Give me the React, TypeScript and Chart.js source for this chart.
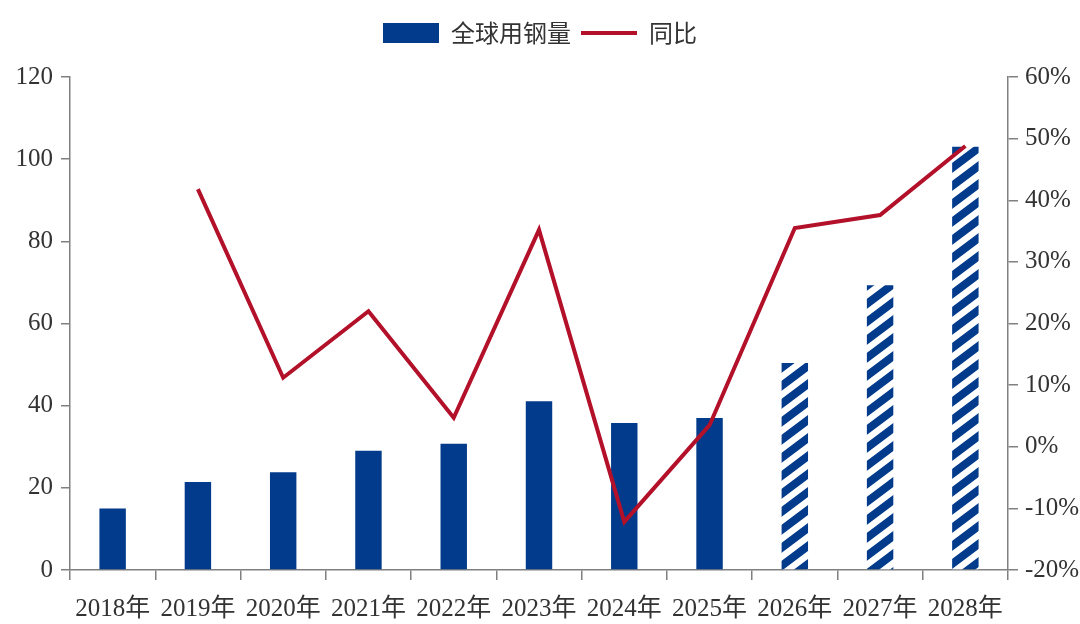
import React, { useEffect, useRef } from 'react';
import { Chart, registerables } from 'chart.js';

Chart.register(...registerables);

const years = ['2018年', '2019年', '2020年', '2021年', '2022年', '2023年', '2024年', '2025年', '2026年', '2027年', '2028年'];
// 全球用钢量 (left axis)
const steelUse = [15, 21.4, 23.8, 29, 30.7, 41.1, 35.8, 37, 50.4, 69.3, 103];
// 同比 % (right axis)
const yoy = [null, 41.8, 11.2, 22, 4.7, 35.2, -12.2, 3.5, 35.5, 37.6, 48.8];
// forecast years get the hatched fill
const forecast = [false, false, false, false, false, false, false, false, true, true, true];

const BLUE = '#023b8c';
const RED = '#b3102a';
const AXIS = '#808080';
const TEXT = '#333333';
const FONT = '"Liberation Serif", "Noto Sans CJK SC", serif';

function makeHatch(): CanvasPattern | string {
    // "/" stripes, vertical period 18, slope 0.75
    const w = 24;
    const h = 18;
    const c = document.createElement('canvas');
    c.width = w;
    c.height = h;
    const ctx = c.getContext('2d');
    if (!ctx) return BLUE;
    ctx.fillStyle = '#ffffff';
    ctx.fillRect(0, 0, w, h);
    ctx.strokeStyle = BLUE;
    ctx.lineWidth = 8;
    ctx.beginPath();
    for (const dy of [-h, 0, h]) {
        ctx.moveTo(-w, 2 * h + dy);
        ctx.lineTo(2 * w, -h + dy);
    }
    ctx.stroke();
    return ctx.createPattern(c, 'repeat') || BLUE;
}

// leave a gap between the legend and the plot area
const legendGap = {
    id: 'legendGap',
    beforeInit(chart: any) {
        if (!chart.legend) return;
        const fit = chart.legend.fit;
        chart.legend.fit = function () {
            fit.bind(chart.legend)();
            this.height += 22;
        };
    },
};

const App: React.FC = () => {
    const chartRef = useRef<HTMLCanvasElement>(null);

    useEffect(() => {
        document.body.style.margin = '0';
        if (!chartRef.current) return;
        const hatch = makeHatch();

        const chartInstance = new Chart(chartRef.current, {
            type: 'bar',
            data: {
                labels: years,
                datasets: [
                    {
                        type: 'bar',
                        label: '全球用钢量',
                        data: steelUse,
                        backgroundColor: forecast.map((f) => (f ? hatch : BLUE)),
                        borderWidth: 0,
                        barPercentage: 0.31,
                        categoryPercentage: 1,
                        yAxisID: 'y',
                        order: 1,
                        pointStyle: 'rect',
                    },
                    {
                        type: 'line',
                        label: '同比',
                        data: yoy,
                        borderColor: RED,
                        backgroundColor: RED,
                        borderWidth: 4,
                        pointRadius: 0,
                        pointStyle: 'line',
                        tension: 0,
                        yAxisID: 'y1',
                        order: 0,
                    },
                ] as any,
            },
            plugins: [legendGap],
            options: {
                animation: false,
                responsive: true,
                maintainAspectRatio: false,
                layout: {
                    padding: { top: 11, left: 0, right: 0, bottom: 0 },
                },
                plugins: {
                    legend: {
                        position: 'top',
                        labels: {
                            usePointStyle: true,
                            pointStyleWidth: 56,
                            boxHeight: 20,
                            padding: 10,
                            color: TEXT,
                            font: { family: '"Noto Sans CJK SC", sans-serif', size: 24 },
                            sort: (a, b) => (a.datasetIndex ?? 0) - (b.datasetIndex ?? 0),
                        },
                    },
                    tooltip: { enabled: false },
                },
                scales: {
                    x: {
                        grid: {
                            display: true,
                            offset: true,
                            drawOnChartArea: false,
                            drawTicks: true,
                            tickLength: 10,
                            color: AXIS,
                            lineWidth: 1.5,
                        },
                        border: { display: true, color: AXIS, width: 1.5 },
                        ticks: {
                            color: TEXT,
                            font: { family: FONT, size: 25, lineHeight: 1 },
                            autoSkip: false,
                            maxRotation: 0,
                            padding: 17,
                        },
                        afterFit: (scale: any) => {
                            scale.height = 54;
                        },
                    },
                    y: {
                        position: 'left',
                        min: 0,
                        max: 120,
                        ticks: {
                            stepSize: 20,
                            color: TEXT,
                            font: { family: FONT, size: 25 },
                            padding: 8,
                        },
                        grid: {
                            drawOnChartArea: false,
                            drawTicks: true,
                            tickLength: 9,
                            color: AXIS,
                            lineWidth: 1.5,
                        },
                        border: { display: true, color: AXIS, width: 1.5 },
                        afterFit: (scale: any) => {
                            scale.width = 70;
                        },
                    },
                    y1: {
                        position: 'right',
                        min: -20,
                        max: 60,
                        ticks: {
                            stepSize: 10,
                            color: TEXT,
                            font: { family: FONT, size: 25 },
                            padding: 7,
                            callback: (v) => `${v}%`,
                        },
                        grid: {
                            drawOnChartArea: false,
                            drawTicks: true,
                            tickLength: 10,
                            color: AXIS,
                            lineWidth: 1.5,
                        },
                        border: { display: true, color: AXIS, width: 1.5 },
                        afterFit: (scale: any) => {
                            scale.width = 72;
                        },
                    },
                },
            },
        });

        return () => {
            chartInstance.destroy();
        };
    }, []);

    return (
        <div style={{ width: 1080, height: 624, position: 'relative', background: '#ffffff' }}>
            <canvas ref={chartRef} />
        </div>
    );
};

export default App;
